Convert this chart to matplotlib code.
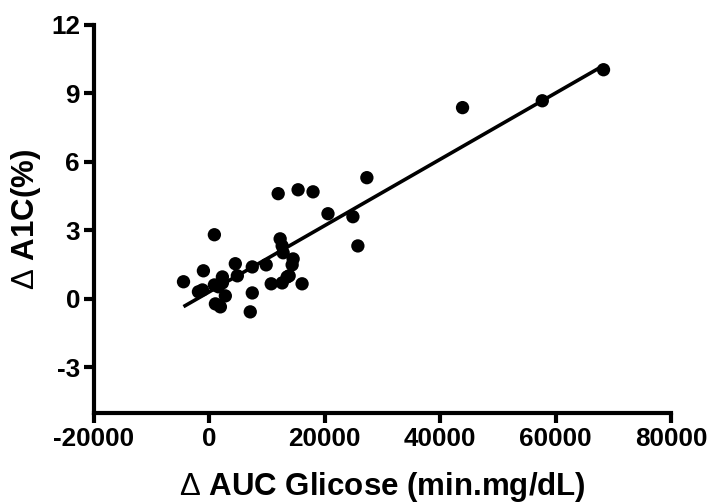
import numpy as np
import matplotlib
matplotlib.use("Agg")
import matplotlib.pyplot as plt

plt.rcParams['font.family'] = ['Liberation Sans', 'DejaVu Sans']
plt.rcParams['mathtext.fontset'] = 'custom'
plt.rcParams['mathtext.rm'] = 'Liberation Sans'

# change in glucose AUC (min.mg/dL) and change in A1C (%) per subject
auc_glicose = [68300, 57690, 43870, 27290, 11920, 15370, 17960, 20550, 24870,
               25730, 860, 12260, 12610, 12780, 14510, 14340, 9840, 7430,
               4490, 4840, -1040, -4490, -1900, -1210, 860, 2250, 2250, 1560,
               2760, 1040, 1900, 7080, 7430, 10710, 12610, 13470, 13820, 16060]
a1c = [10.04, 8.68, 8.38, 5.31, 4.61, 4.78, 4.69, 3.73, 3.60,
       2.32, 2.81, 2.63, 2.32, 2.02, 1.75, 1.49, 1.49, 1.40,
       1.54, 1.01, 1.23, 0.75, 0.31, 0.39, 0.61, 0.96, 0.70, 0.53,
       0.13, -0.22, -0.35, -0.57, 0.26, 0.66, 0.70, 0.96, 1.01, 0.66]

x_ticks = [-20000, 0, 20000, 40000, 60000, 80000]
y_ticks = [-3, 0, 3, 6, 9, 12]

x = np.array(auc_glicose, dtype=float)
y = np.array(a1c, dtype=float)

fig = plt.figure(figsize=(7.10, 5.04), dpi=100)
ax = fig.add_axes([0.1324, 0.1806, 0.8127, 0.7698])

# linear regression across the observed range
slope, intercept = np.polyfit(x, y, 1)
xf = np.array([x.min(), x.max()])
ax.plot(xf, slope * xf + intercept, color='black', lw=2.6,
        solid_capstyle='butt', zorder=2)

ax.scatter(x, y, s=92, color='black', edgecolors='none', zorder=3)

ax.set_xlim(-20000, 80000)
ax.set_ylim(-5, 12)
ax.set_xticks(x_ticks)
ax.set_yticks(y_ticks)
ax.set_xticklabels([str(v) for v in x_ticks])
ax.set_yticklabels([str(v) for v in y_ticks])

for s in ['top', 'right']:
    ax.spines[s].set_visible(False)
for s in ['left', 'bottom']:
    ax.spines[s].set_linewidth(3.0)
    ax.spines[s].set_capstyle('projecting')

ax.tick_params(axis='both', direction='out', length=7, width=3.0,
               labelsize=18.8, pad=3)
for lab in ax.get_xticklabels() + ax.get_yticklabels():
    lab.set_fontweight('bold')

ax.set_xlabel(r'$\Delta$ AUC Glicose (min.mg/dL)', fontsize=22.5,
              fontweight='bold', labelpad=14)
ax.set_ylabel(r'$\Delta$ A1C(%)', fontsize=22.5, fontweight='bold',
              labelpad=6)

fig.savefig('out.png', dpi=100)
